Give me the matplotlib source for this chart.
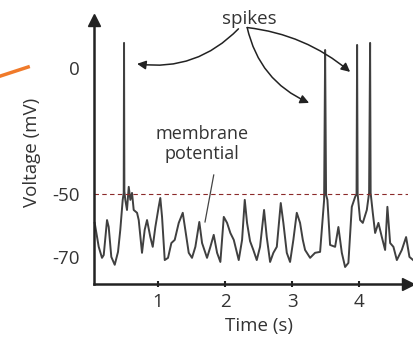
import numpy as np
import matplotlib
matplotlib.use("Agg")
import matplotlib.pyplot as plt
from matplotlib.lines import Line2D

plt.rcParams["font.family"] = ["Open Sans", "DejaVu Sans"]

# membrane potential trace (time in s, voltage in mV)
trace_t = [0.055, 0.115, 0.164, 0.190, 0.239, 0.264, 0.303, 0.354, 0.403, 0.437,
           0.473, 0.488, 0.493, 0.498, 0.512, 0.537, 0.563, 0.587, 0.612, 0.637,
           0.687, 0.712, 0.761, 0.801, 0.836, 0.885, 0.921, 0.960, 1.010, 1.034,
           1.060, 1.100, 1.149, 1.199, 1.249, 1.309, 1.369, 1.407, 1.458, 1.507,
           1.557, 1.616, 1.657, 1.731, 1.781, 1.831, 1.881, 1.930, 1.981, 2.030,
           2.079, 2.130, 2.204, 2.254, 2.294, 2.328, 2.373, 2.422, 2.473, 2.522,
           2.582, 2.622, 2.672, 2.721, 2.772, 2.831, 2.870, 2.921, 2.970, 3.019,
           3.070, 3.119, 3.160, 3.194, 3.269, 3.343, 3.418, 3.478, 3.493, 3.507,
           3.527, 3.567, 3.642, 3.691, 3.742, 3.791, 3.840, 3.891, 3.940, 3.962,
           3.970, 3.978, 4.015, 4.055, 4.115, 4.149, 4.164, 4.172, 4.204, 4.239,
           4.288, 4.339, 4.388, 4.422, 4.463, 4.512, 4.563, 4.637, 4.701, 4.751,
           4.806]
trace_v = [-59.2, -66.8, -70.3, -69.4, -58.3, -60.5, -70.0, -72.5, -68.4, -61.4,
           -51.9, -49.6, 9.9, -49.0, -51.9, -55.1, -47.2, -51.9, -49.6, -55.1,
           -56.0, -58.3, -68.7, -61.4, -58.3, -63.7, -66.8, -60.5, -54.1, -51.3,
           -57.3, -71.0, -70.3, -65.6, -64.6, -59.2, -56.0, -61.4, -68.7, -70.3,
           -66.8, -58.9, -65.6, -70.3, -66.8, -63.0, -68.7, -71.6, -57.3, -59.2,
           -62.4, -64.6, -71.0, -64.6, -51.9, -59.2, -65.0, -67.8, -71.0, -66.8,
           -55.1, -63.7, -71.6, -68.7, -66.8, -52.9, -59.2, -68.7, -71.6, -64.6,
           -56.0, -59.2, -64.6, -67.8, -70.3, -68.7, -68.4, -51.9, 7.1, -50.3,
           -51.9, -66.2, -66.8, -60.5, -68.7, -73.2, -71.9, -54.1, -51.0, -50.0,
           9.1, -50.0, -58.3, -59.2, -55.1, -49.6, 9.9, -49.6, -56.0, -62.4,
           -59.2, -63.7, -67.8, -54.1, -65.6, -66.8, -71.0, -67.8, -63.7, -70.0,
           -71.0]

threshold = -50
x_ticks = [1, 2, 3, 4]
y_ticks = [-70, -50, 0]
y_labels = ["-70", "-50", "0"]
spike_arrow_tips = [(0.687, 1.6), (3.254, -13.9), (3.866, -1.6)]


# schematic axis: the part below threshold is drawn stretched
def fwd(v):
    v = np.asarray(v, dtype=float)
    return np.where(v < -50, (v + 50) * 3.15, (v + 50) * 2.52)


def inv(u):
    u = np.asarray(u, dtype=float)
    return np.where(u < 0, u / 3.15 - 50, u / 2.52 - 50)


fig = plt.figure(figsize=(4.14, 3.4), dpi=100)
ax = fig.add_axes([0.2271, 0.1647, 0.7585, 0.7765])
ax.set_yscale("function", functions=(fwd, inv))
ax.set_xlim(0.045, 4.73)
ax.set_ylim(-78.6, 19.0)

ink = "#333333"
ax.plot(trace_t, trace_v, color="#404040", lw=1.4, solid_joinstyle="round", clip_on=False)
ax.axhline(threshold, color="#8b2a2a", lw=0.8, ls=(0, (4, 3)))

for side in ("top", "right"):
    ax.spines[side].set_visible(False)
for side in ("left", "bottom"):
    ax.spines[side].set_linewidth(1.8)
    ax.spines[side].set_color("#222222")
ax.plot(0, 1, marker="^", color="#222222", ms=8, transform=ax.transAxes, clip_on=False)
ax.plot(1, 0, marker=">", color="#222222", ms=8, transform=ax.transAxes, clip_on=False)

ax.set_xticks(x_ticks)
ax.set_yticks(y_ticks)
ax.set_yticklabels(y_labels)
ax.yaxis.set_minor_locator(matplotlib.ticker.NullLocator())
ax.tick_params(axis="x", direction="inout", length=5, width=1.5, color="#222222",
               pad=4, labelsize=13.5, labelcolor=ink)
ax.tick_params(axis="y", length=0, pad=10, labelsize=13.5, labelcolor=ink)

ax.set_xlabel("Time (s)", fontsize=13.5, color=ink)
ax.xaxis.set_label_coords(0.525, -0.125)
ax.set_ylabel("Voltage (mV)", fontsize=13.5, color=ink)
ax.yaxis.set_label_coords(-0.17, 0.5)

ax.text(2.358, 19.5, "spikes", fontsize=13.5, color=ink, ha="center", va="center")
ax.text(1.657, -30.2, "membrane\npotential", fontsize=13, color=ink,
        ha="center", va="center", linespacing=1.15)
ax.plot([1.831, 1.701], [-42.5, -58.9], color="#444444", lw=0.9)

starts = [(2.2, 15.5), (2.33, 16.0), (2.33, 16.0)]
rads = [-0.25, 0.25, -0.15]
for tip, start, rad in zip(spike_arrow_tips, starts, rads):
    ax.annotate("", xy=tip, xytext=start,
                arrowprops=dict(arrowstyle="-|>", color="#222222", lw=1.1,
                                mutation_scale=13, shrinkA=0, shrinkB=0,
                                connectionstyle=f"arc3,rad={rad}"))

fig.add_artist(Line2D([0.0, 0.068], [0.776, 0.803], color="#f07a2a", lw=2.5,
                      transform=fig.transFigure))

fig.savefig("out.png", dpi=100)
